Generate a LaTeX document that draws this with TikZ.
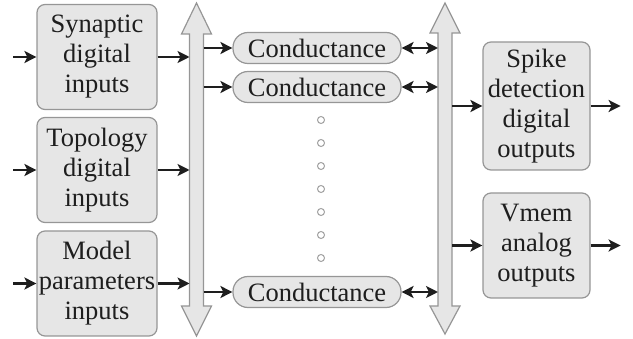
\documentclass[tikz,border=0pt]{standalone}
\usepackage{fontspec}
\setmainfont{Liberation Serif}
\usetikzlibrary{positioning,arrows.meta,calc}
\definecolor{boxfill}{RGB}{230,230,230}
\definecolor{boxline}{RGB}{150,150,150}
\definecolor{ink}{RGB}{30,30,30}
\definecolor{dotgray}{RGB}{160,160,160}
\newcommand{\bigtext}{\fontsize{26.5}{30}\selectfont}

\begin{document}
\begin{tikzpicture}[x=1pt,y=-1pt,
  block/.style={draw=boxline,fill=boxfill,line width=1.2pt,rounded corners=8pt,
                align=center,inner sep=0pt,text=ink,font=\bigtext},
  pill/.style={draw=boxline,fill=boxfill,line width=1.2pt,rounded corners=15pt,
               minimum width=168pt,minimum height=31pt,inner sep=0pt,text=ink,font=\bigtext},
  conn/.style={-{Stealth[length=12pt,width=12pt,inset=3pt]},line width=2.2pt,ink},
  dconn/.style={{Stealth[length=12pt,width=12pt,inset=3pt]}-{Stealth[length=12pt,width=12pt,inset=3pt]},line width=2.2pt,ink},
  bus/.style={draw=boxline,fill=boxfill,line width=1.2pt}]
\useasboundingbox (0,0) rectangle (633,339);
% input blocks
\node[block,minimum width=120pt,minimum height=105pt] (syn) at (97,57) {Synaptic\\digital\\inputs};
\node[block,minimum width=120pt,minimum height=105pt] (topo) at (97,170) {Topology\\digital\\inputs};
\node[block,minimum width=120pt,minimum height=105pt] (model) at (97,283.5) {Model\\parameters\\inputs};
% left bus
\draw[bus] (196.5,3) -- (211.5,34) -- (203.5,34) -- (203.5,306) -- (211.5,306) -- (196.5,336)
  -- (181.5,306) -- (189.5,306) -- (189.5,34) -- (181.5,34) -- cycle;
\coordinate (lbusW) at (189.5,0);
\coordinate (lbusE) at (203.5,0);
% right bus
\draw[bus] (445,3) -- (460,33) -- (452,33) -- (452,306) -- (460,306) -- (445,334)
  -- (430,306) -- (438,306) -- (438,33) -- (430,33) -- cycle;
\coordinate (rbusW) at (438,0);
\coordinate (rbusE) at (452,0);
% conductances
\node[pill] (g1) at (317,48) {Conductance};
\node[pill] (g2) at (317,87) {Conductance};
\node[pill] (gn) at (317,292) {Conductance};
\foreach \y in {120,143,...,258}
  \draw[dotgray,fill=white,line width=1pt] (321,\y) circle (3.5pt);
% output blocks
\node[block,minimum width=107pt,minimum height=128pt] (spike) at (536.5,106) {Spike\\detection\\digital\\outputs};
\node[block,minimum width=107pt,minimum height=105pt] (vmem) at (536.5,245.5) {Vmem\\analog\\outputs};
% free ends
\coordinate[left=23pt of syn] (synin);
\coordinate[left=23pt of topo] (topoin);
\coordinate[left=23pt of model] (modelin);
\coordinate[right=30pt of spike] (spikeout);
\coordinate[right=30pt of vmem] (vmemout);
% arrows
\foreach \n in {syn,topo,model}{
  \draw[conn] (\n in) -- (\n.west);
  \draw[conn] (\n.east) -- (\n.east -| lbusW);
}
\foreach \n in {g1,g2,gn}{
  \draw[conn] (\n.west -| lbusE) -- (\n.west);
  \draw[dconn] (\n.east) -- (\n.east -| rbusW);
}
\draw[conn] (spike.west -| rbusE) -- (spike.west);
\draw[conn] (vmem.west -| rbusE) -- (vmem.west);
\draw[conn] (spike.east) -- (spikeout);
\draw[conn] (vmem.east) -- (vmemout);
\end{tikzpicture}
\end{document}
